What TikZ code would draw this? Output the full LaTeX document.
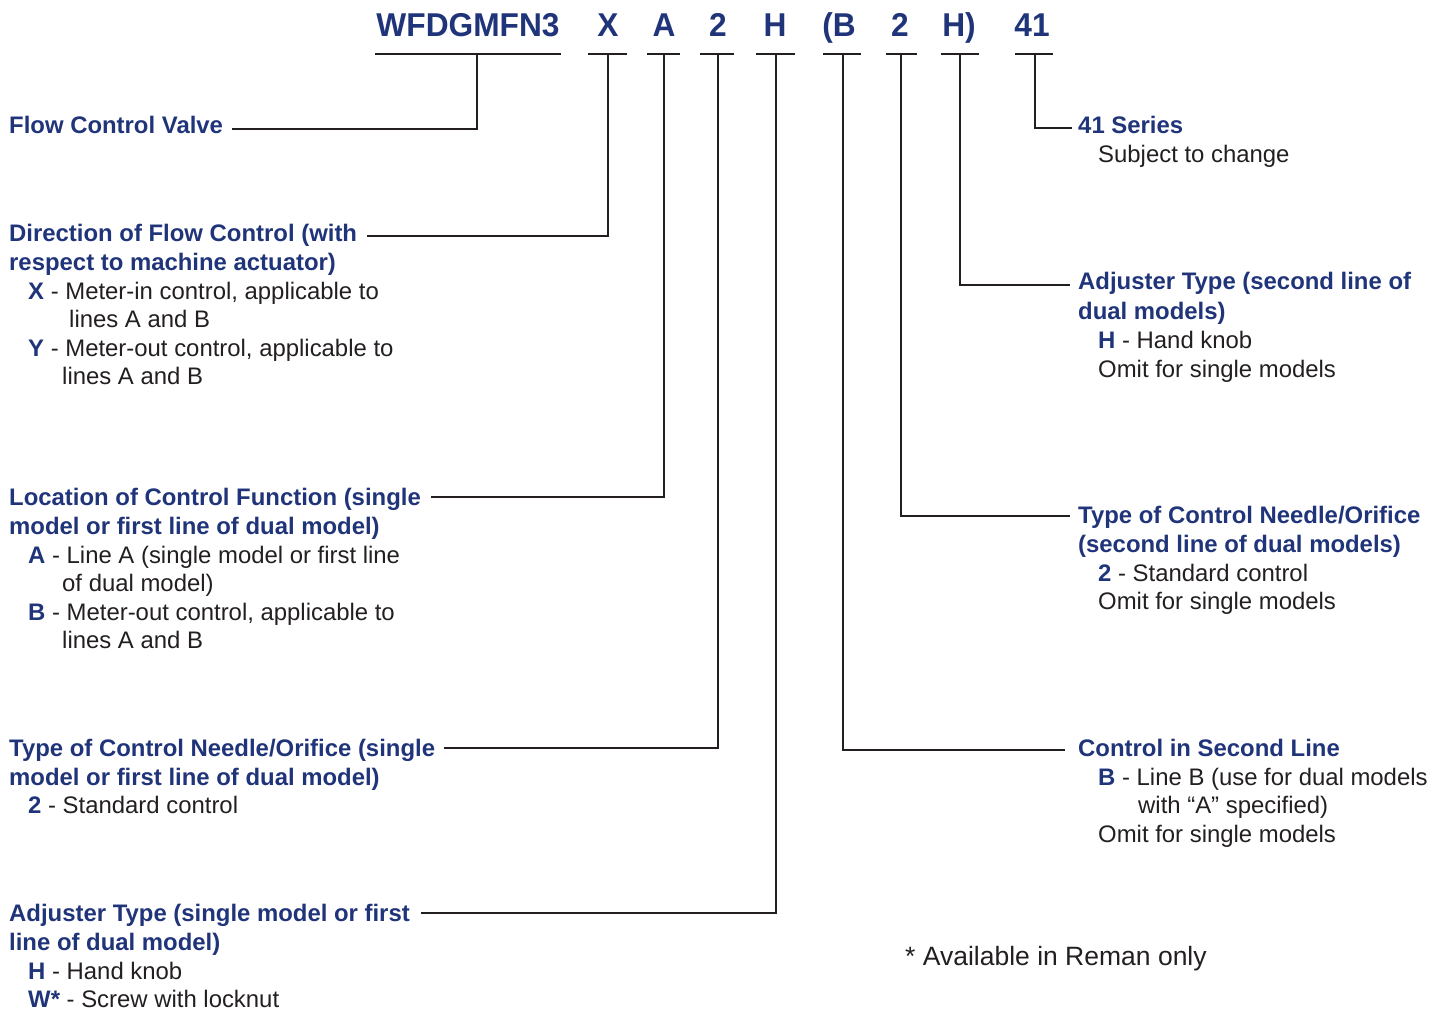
\documentclass[tikz,border=0pt]{standalone}
\usepackage{fontspec}
\setmainfont{Liberation Sans}
\definecolor{navy}{RGB}{32,52,122}
\definecolor{ink}{RGB}{35,31,32}
\newcommand\ky[1]{{\bfseries\color{navy}#1}}
\newcommand\hdtxt[1]{\scalebox{0.96}[1]{#1}}
\tikzset{
  code/.style={font=\fontsize{33}{33}\selectfont\bfseries, text=navy, anchor=base, inner sep=0pt},
  head/.style={font=\fontsize{23.9}{29}\selectfont\bfseries, text=navy, anchor=base west, inner sep=0pt},
  body/.style={font=\fontsize{23.9}{29}\selectfont, text=ink, anchor=base west, inner sep=0pt},
  notestyle/.style={font=\fontsize{26.5}{30}\selectfont, text=ink, anchor=base west, inner sep=0pt},
  wire/.style={draw=ink, line width=2.4pt},
}
\begin{document}
\begin{tikzpicture}[x=1pt,y=-1pt]
\useasboundingbox (0,0) rectangle (1446,1011);
% header code
\node[code] (c1) at (468,37) {\hdtxt{WFDGMFN3}};
\node[code] (c2) at (608,37) {\hdtxt{X}};
\node[code] (c3) at (664,37) {\hdtxt{A}};
\node[code] (c4) at (718,37) {\hdtxt{2}};
\node[code] (c5) at (775,37) {\hdtxt{H}};
\node[code] (c6) at (839,37) {\hdtxt{(B}};
\node[code] (c7) at (900,37) {\hdtxt{2}};
\node[code] (c8) at (959,37) {\hdtxt{H)}};
\node[code] (c9) at (1032,37) {\hdtxt{41}};
% underlines
\draw[wire] (375,54) -- (561,54);
\draw[wire] (588,54) -- (627,54);
\draw[wire] (647,54) -- (680,54);
\draw[wire] (700,54) -- (734,54);
\draw[wire] (756,54) -- (795,54);
\draw[wire] (823,54) -- (861,54);
\draw[wire] (886,54) -- (917,54);
\draw[wire] (941,54) -- (979,54);
\draw[wire] (1015,54) -- (1053,54);
% stem tops
\coordinate (u1) at (477,54);
\coordinate (u2) at (608,54);
\coordinate (u3) at (664,54);
\coordinate (u4) at (718,54);
\coordinate (u5) at (776,54);
\coordinate (u6) at (843,54);
\coordinate (u7) at (901,54);
\coordinate (u8) at (960,54);
\coordinate (u9) at (1035,54);
% connector ends
\coordinate (e1) at (232,129);
\coordinate (e2) at (367,236);
\coordinate (e3) at (431,497);
\coordinate (e4) at (444,748);
\coordinate (e5) at (421,913);
\coordinate (e6) at (1065,750);
\coordinate (e7) at (1070,516);
\coordinate (e8) at (1070,285);
\coordinate (e9) at (1072,128);
\draw[wire] (u1) |- (e1);
\draw[wire] (u2) |- (e2);
\draw[wire] (u3) |- (e3);
\draw[wire] (u4) |- (e4);
\draw[wire] (u5) |- (e5);
\draw[wire] (u6) |- (e6);
\draw[wire] (u7) |- (e7);
\draw[wire] (u8) |- (e8);
\draw[wire] (u9) |- (e9);
% left column
\node[head] (l1) at (9,134) {Flow Control Valve};
\node[head] (l2a) at (9,241) {Direction of Flow Control (with};
\node[head] (l2b) at (9,270) {respect to machine actuator)};
\node[body] (l2c) at (28,299) {\ky{X} - Meter-in control, applicable to};
\node[body] (l2d) at (69,327) {lines A and B};
\node[body] (l2e) at (28,356) {\ky{Y} - Meter-out control, applicable to};
\node[body] (l2f) at (62,384) {lines A and B};
\node[head] (l3a) at (9,505) {Location of Control Function (single};
\node[head] (l3b) at (9,534) {model or first line of dual model)};
\node[body] (l3c) at (28,563) {\ky{A} - Line A (single model or first line};
\node[body] (l3d) at (62,591) {of dual model)};
\node[body] (l3e) at (28,620) {\ky{B} - Meter-out control, applicable to};
\node[body] (l3f) at (62,648) {lines A and B};
\node[head] (l4a) at (9,756) {Type of Control Needle/Orifice (single};
\node[head] (l4b) at (9,785) {model or first line of dual model)};
\node[body] (l4c) at (28,813) {\ky{2} - Standard control};
\node[head] (l5a) at (9,921) {Adjuster Type (single model or first};
\node[head] (l5b) at (9,950) {line of dual model)};
\node[body] (l5c) at (28,979) {\ky{H} - Hand knob};
\node[body] (l5d) at (28,1007) {\ky{W*} - Screw with locknut};
% right column
\node[head] (r1a) at (1078,134) {41 Series};
\node[body] (r1b) at (1098,163) {Subject to change};
\node[head] (r2a) at (1078,290) {Adjuster Type (second line of};
\node[head] (r2b) at (1078,319) {dual models)};
\node[body] (r2c) at (1098,348) {\ky{H} - Hand knob};
\node[body] (r2d) at (1098,377) {Omit for single models};
\node[head] (r3a) at (1078,523) {Type of Control Needle/Orifice};
\node[head] (r3b) at (1078,552) {(second line of dual models)};
\node[body] (r3c) at (1098,581) {\ky{2} - Standard control};
\node[body] (r3d) at (1098,609) {Omit for single models};
\node[head] (r4a) at (1078,756) {Control in Second Line};
\node[body] (r4b) at (1098,785) {\ky{B} - Line B (use for dual models};
\node[body] (r4c) at (1138,813) {with “A” specified)};
\node[body] (r4d) at (1098,842) {Omit for single models};
\node[notestyle] (note) at (905,965) {* Available in Reman only};
\end{tikzpicture}
\end{document}
